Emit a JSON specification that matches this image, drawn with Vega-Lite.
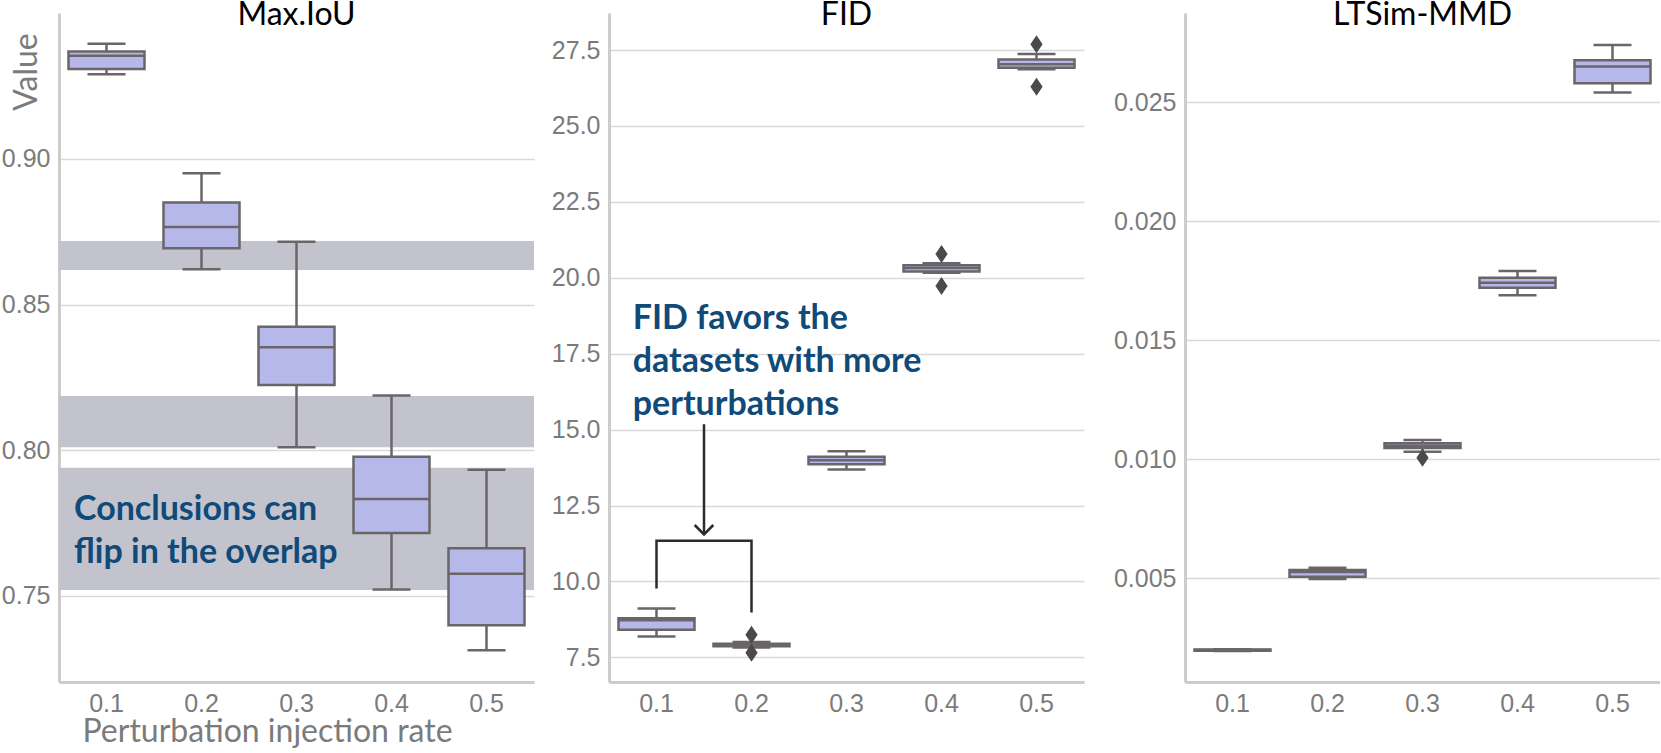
{
  "$schema": "https://vega.github.io/schema/vega-lite/v6.json",
  "padding": {"left": 0, "top": -1, "right": 0, "bottom": 0},
  "background": "white",
  "spacing": 10,
  "config": {
    "view": {"stroke": null},
    "font": "Lato",
    "axis": {
      "labelFont": "Liberation Sans", "labelFontSize": 25, "labelColor": "#7b7b7b",
      "ticks": false, "domainColor": "#cccccc", "domainWidth": 3,
      "gridColor": "#d9d9d9", "gridWidth": 1.5, "labelPadding": 9,
      "titleFont": "Lato", "titleFontSize": 32, "titleFontWeight": "normal", "titleColor": "#7b7b7b"
    },
    "scale": {"bandPaddingInner": 0, "bandPaddingOuter": 0},
    "title": {"font": "Lato", "fontSize": 32, "fontWeight": "normal", "color": "#000000", "frame": "group", "anchor": "middle", "baseline": "alphabetic", "offset": -19}
  },
  "datasets": {
    "boxes": [
      {"metric": "Max.IoU", "rate": "0.1", "lower": 0.9291, "q1": 0.9309, "median": 0.9354, "q3": 0.9369, "upper": 0.9395},
      {"metric": "Max.IoU", "rate": "0.2", "lower": 0.8621, "q1": 0.8693, "median": 0.8766, "q3": 0.8850, "upper": 0.8951},
      {"metric": "Max.IoU", "rate": "0.3", "lower": 0.8010, "q1": 0.8224, "median": 0.8353, "q3": 0.8424, "upper": 0.8716},
      {"metric": "Max.IoU", "rate": "0.4", "lower": 0.7522, "q1": 0.7716, "median": 0.7832, "q3": 0.7977, "upper": 0.8188},
      {"metric": "Max.IoU", "rate": "0.5", "lower": 0.7313, "q1": 0.7399, "median": 0.7576, "q3": 0.7663, "upper": 0.7933},
      {"metric": "FID", "rate": "0.1", "lower": 8.19, "q1": 8.41, "median": 8.72, "q3": 8.79, "upper": 9.11},
      {"metric": "FID", "rate": "0.2", "lower": 7.83, "q1": 7.87, "median": 7.92, "q3": 7.95, "upper": 8.01},
      {"metric": "FID", "rate": "0.3", "lower": 13.69, "q1": 13.86, "median": 13.99, "q3": 14.11, "upper": 14.29},
      {"metric": "FID", "rate": "0.4", "lower": 20.17, "q1": 20.21, "median": 20.32, "q3": 20.41, "upper": 20.48},
      {"metric": "FID", "rate": "0.5", "lower": 26.87, "q1": 26.92, "median": 27.03, "q3": 27.19, "upper": 27.37},
      {"metric": "LTSim-MMD", "rate": "0.1", "lower": 0.00193, "q1": 0.00194, "median": 0.00197, "q3": 0.00200, "upper": 0.00201},
      {"metric": "LTSim-MMD", "rate": "0.2", "lower": 0.004958, "q1": 0.005054, "median": 0.005252, "q3": 0.005336, "upper": 0.005433},
      {"metric": "LTSim-MMD", "rate": "0.3", "lower": 0.01031, "q1": 0.010466, "median": 0.010562, "q3": 0.010663, "upper": 0.010802},
      {"metric": "LTSim-MMD", "rate": "0.4", "lower": 0.016886, "q1": 0.017205, "median": 0.017416, "q3": 0.017626, "upper": 0.017907},
      {"metric": "LTSim-MMD", "rate": "0.5", "lower": 0.025404, "q1": 0.025799, "median": 0.026497, "q3": 0.026766, "upper": 0.027409}
    ],
    "outliers": [
      {"metric": "FID", "rate": "0.2", "value": 8.25},
      {"metric": "FID", "rate": "0.2", "value": 7.65},
      {"metric": "FID", "rate": "0.4", "value": 20.78},
      {"metric": "FID", "rate": "0.4", "value": 19.73},
      {"metric": "FID", "rate": "0.5", "value": 27.69},
      {"metric": "FID", "rate": "0.5", "value": 26.29},
      {"metric": "LTSim-MMD", "rate": "0.3", "value": 0.010058}
    ],
    "bands": [
      {"lo": 0.8619, "hi": 0.8718},
      {"lo": 0.8010, "hi": 0.8186},
      {"lo": 0.7520, "hi": 0.7940}
    ],
    "notes": [
      {"metric": "Max.IoU", "xq": 0.0658, "y": 0.776, "text": "Conclusions can\nflip in the overlap"},
      {"metric": "FID", "xq": 0.075, "y": 18.33, "text": "FID favors the\ndatasets with more\nperturbations"}
    ],
    "paths": [
      {"part": "bracket", "ord": 1, "xq": 0.1, "y": 9.77},
      {"part": "bracket", "ord": 2, "xq": 0.1, "y": 11.34},
      {"part": "bracket", "ord": 3, "xq": 0.2, "y": 11.34},
      {"part": "bracket", "ord": 4, "xq": 0.2, "y": 8.98},
      {"part": "shaft", "ord": 1, "xq": 0.15, "y": 15.18},
      {"part": "shaft", "ord": 2, "xq": 0.15, "y": 11.6},
      {"part": "head", "ord": 1, "xq": 0.1402, "y": 11.86},
      {"part": "head", "ord": 2, "xq": 0.15, "y": 11.55},
      {"part": "head", "ord": 3, "xq": 0.1598, "y": 11.86}
    ]
  },
  "hconcat": [
    {
      "width": 475, "height": 669,
      "title": {"text": "Max.IoU"},
      "resolve": {"scale": {"x": "independent"}},
      "layer": [
        {
          "data": {"name": "bands"},
          "mark": {"type": "rect", "color": "#c3c3cd"},
          "encoding": {
            "y": {"field": "lo", "type": "quantitative",
              "scale": {"domain": [0.7204, 0.9501], "nice": false, "zero": false},
              "axis": {"title": "Value", "values": [0.75, 0.8, 0.85, 0.9], "format": ".2f", "grid": true, "minExtent": 59,
                "titleX": -23, "titleY": 58.5, "titleAngle": -90, "titleAlign": "center", "titleBaseline": "alphabetic"}},
            "y2": {"field": "hi"}
          }
        },
        {
          "data": {"name": "boxes"},
          "transform": [{"filter": "datum.metric === 'Max.IoU'"}],
          "layer": [
            {"mark": {"type": "rule", "color": "#6a6568", "strokeWidth": 2.5},
             "encoding": {"x": {"field": "rate", "type": "ordinal", "scale": {"type": "band", "paddingInner": 0, "paddingOuter": 0},
               "axis": {"title": "Perturbation injection rate", "labelAngle": 0, "grid": false, "titleX": 208, "titleY": 59.7, "titleAlign": "center", "titleBaseline": "alphabetic"}},
               "y": {"field": "lower", "type": "quantitative"}, "y2": {"field": "q1"}}},
            {"mark": {"type": "rule", "color": "#6a6568", "strokeWidth": 2.5},
             "encoding": {"x": {"field": "rate", "type": "ordinal"}, "y": {"field": "q3", "type": "quantitative"}, "y2": {"field": "upper"}}},
            {"mark": {"type": "tick", "color": "#6a6568", "size": 38, "thickness": 2.5, "opacity": 1},
             "encoding": {"x": {"field": "rate", "type": "ordinal"}, "y": {"field": "lower", "type": "quantitative"}}},
            {"mark": {"type": "tick", "color": "#6a6568", "size": 38, "thickness": 2.5, "opacity": 1},
             "encoding": {"x": {"field": "rate", "type": "ordinal"}, "y": {"field": "upper", "type": "quantitative"}}},
            {"mark": {"type": "bar", "width": {"band": 0.8}, "fill": "#b6b8ea", "stroke": "#6a6568", "strokeWidth": 2.5},
             "encoding": {"x": {"field": "rate", "type": "ordinal"}, "y": {"field": "q1", "type": "quantitative"}, "y2": {"field": "q3"}}},
            {"mark": {"type": "tick", "color": "#6a6568", "size": 76, "thickness": 2.5, "opacity": 1},
             "encoding": {"x": {"field": "rate", "type": "ordinal"}, "y": {"field": "median", "type": "quantitative"}}}
          ]
        },
        {
          "data": {"name": "notes"},
          "transform": [{"filter": "datum.metric === 'Max.IoU'"}],
          "mark": {"type": "text", "font": "Lato", "fontWeight": "bold", "fontSize": 34, "color": "#0f4a78", "align": "left", "baseline": "alphabetic", "lineBreak": "\n", "lineHeight": 43},
          "encoding": {
            "x": {"field": "xq", "type": "quantitative", "scale": {"domain": [0.05, 0.55], "nice": false, "zero": false}, "axis": null},
            "y": {"field": "y", "type": "quantitative"},
            "text": {"field": "text", "type": "nominal"}
          }
        }
      ]
    },
    {
      "width": 475, "height": 669,
      "title": {"text": "FID"},
      "resolve": {"scale": {"x": "independent"}},
      "layer": [
        {
          "layer": [
            {"data": {"name": "boxes"}, "transform": [{"filter": "datum.metric === 'FID'"}],
             "mark": {"type": "rule", "color": "#6a6568", "strokeWidth": 2.5},
             "encoding": {"x": {"field": "rate", "type": "ordinal", "scale": {"type": "band", "paddingInner": 0, "paddingOuter": 0},
               "axis": {"title": null, "labelAngle": 0, "grid": false}},
               "y": {"field": "lower", "type": "quantitative",
                 "scale": {"domain": [6.69, 28.72], "nice": false, "zero": false},
                 "axis": {"title": null, "values": [7.5, 10, 12.5, 15, 17.5, 20, 22.5, 25, 27.5], "format": ".1f", "grid": true, "minExtent": 65}},
               "y2": {"field": "q1"}}},
            {"data": {"name": "boxes"}, "transform": [{"filter": "datum.metric === 'FID'"}],
             "mark": {"type": "rule", "color": "#6a6568", "strokeWidth": 2.5},
             "encoding": {"x": {"field": "rate", "type": "ordinal"}, "y": {"field": "q3", "type": "quantitative"}, "y2": {"field": "upper"}}},
            {"data": {"name": "boxes"}, "transform": [{"filter": "datum.metric === 'FID'"}],
             "mark": {"type": "tick", "color": "#6a6568", "size": 38, "thickness": 2.5, "opacity": 1},
             "encoding": {"x": {"field": "rate", "type": "ordinal"}, "y": {"field": "lower", "type": "quantitative"}}},
            {"data": {"name": "boxes"}, "transform": [{"filter": "datum.metric === 'FID'"}],
             "mark": {"type": "tick", "color": "#6a6568", "size": 38, "thickness": 2.5, "opacity": 1},
             "encoding": {"x": {"field": "rate", "type": "ordinal"}, "y": {"field": "upper", "type": "quantitative"}}},
            {"data": {"name": "boxes"}, "transform": [{"filter": "datum.metric === 'FID'"}],
             "mark": {"type": "bar", "width": {"band": 0.8}, "fill": "#b6b8ea", "stroke": "#6a6568", "strokeWidth": 2.5},
             "encoding": {"x": {"field": "rate", "type": "ordinal"}, "y": {"field": "q1", "type": "quantitative"}, "y2": {"field": "q3"}}},
            {"data": {"name": "boxes"}, "transform": [{"filter": "datum.metric === 'FID'"}],
             "mark": {"type": "tick", "color": "#6a6568", "size": 76, "thickness": 2.5, "opacity": 1},
             "encoding": {"x": {"field": "rate", "type": "ordinal"}, "y": {"field": "median", "type": "quantitative"}}},
            {"data": {"name": "outliers"}, "transform": [{"filter": "datum.metric === 'FID'"}],
             "mark": {"type": "point", "shape": "M0,-1L0.68,0L0,1L-0.68,0Z", "filled": true, "color": "#4a4a4a", "size": 324, "opacity": 1},
             "encoding": {"x": {"field": "rate", "type": "ordinal"}, "y": {"field": "value", "type": "quantitative"}}}
          ]
        },
        {
          "layer": [
            {"data": {"name": "paths"},
             "mark": {"type": "line", "color": "#2b2b2b", "strokeWidth": 2.5},
             "encoding": {
               "x": {"field": "xq", "type": "quantitative", "scale": {"domain": [0.05, 0.55], "nice": false, "zero": false}, "axis": null},
               "y": {"field": "y", "type": "quantitative"},
               "detail": {"field": "part"},
               "order": {"field": "ord", "type": "quantitative"}
             }},
            {"data": {"name": "notes"},
             "transform": [{"filter": "datum.metric === 'FID'"}],
             "mark": {"type": "text", "font": "Lato", "fontWeight": "bold", "fontSize": 34, "color": "#0f4a78", "align": "left", "baseline": "alphabetic", "lineBreak": "\n", "lineHeight": 43},
             "encoding": {
               "x": {"field": "xq", "type": "quantitative", "axis": null},
               "y": {"field": "y", "type": "quantitative"},
               "text": {"field": "text", "type": "nominal"}
             }}
          ]
        }
      ]
    },
    {
      "width": 475, "height": 669,
      "title": {"text": "LTSim-MMD"},
      "layer": [
        {"data": {"name": "boxes"}, "transform": [{"filter": "datum.metric === 'LTSim-MMD'"}],
         "mark": {"type": "rule", "color": "#6a6568", "strokeWidth": 2.5},
         "encoding": {"x": {"field": "rate", "type": "ordinal", "scale": {"type": "band", "paddingInner": 0, "paddingOuter": 0},
           "axis": {"title": null, "labelAngle": 0, "grid": false}},
           "y": {"field": "lower", "type": "quantitative",
             "scale": {"domain": [0.00063, 0.02875], "nice": false, "zero": false},
             "axis": {"title": null, "values": [0.005, 0.01, 0.015, 0.02, 0.025], "format": ".3f", "grid": true, "minExtent": 90.5}},
           "y2": {"field": "q1"}}},
        {"data": {"name": "boxes"}, "transform": [{"filter": "datum.metric === 'LTSim-MMD'"}],
         "mark": {"type": "rule", "color": "#6a6568", "strokeWidth": 2.5},
         "encoding": {"x": {"field": "rate", "type": "ordinal"}, "y": {"field": "q3", "type": "quantitative"}, "y2": {"field": "upper"}}},
        {"data": {"name": "boxes"}, "transform": [{"filter": "datum.metric === 'LTSim-MMD'"}],
         "mark": {"type": "tick", "color": "#6a6568", "size": 38, "thickness": 2.5, "opacity": 1},
         "encoding": {"x": {"field": "rate", "type": "ordinal"}, "y": {"field": "lower", "type": "quantitative"}}},
        {"data": {"name": "boxes"}, "transform": [{"filter": "datum.metric === 'LTSim-MMD'"}],
         "mark": {"type": "tick", "color": "#6a6568", "size": 38, "thickness": 2.5, "opacity": 1},
         "encoding": {"x": {"field": "rate", "type": "ordinal"}, "y": {"field": "upper", "type": "quantitative"}}},
        {"data": {"name": "boxes"}, "transform": [{"filter": "datum.metric === 'LTSim-MMD'"}],
         "mark": {"type": "bar", "width": {"band": 0.8}, "fill": "#b6b8ea", "stroke": "#6a6568", "strokeWidth": 2.5},
         "encoding": {"x": {"field": "rate", "type": "ordinal"}, "y": {"field": "q1", "type": "quantitative"}, "y2": {"field": "q3"}}},
        {"data": {"name": "boxes"}, "transform": [{"filter": "datum.metric === 'LTSim-MMD'"}],
         "mark": {"type": "tick", "color": "#6a6568", "size": 76, "thickness": 2.5, "opacity": 1},
         "encoding": {"x": {"field": "rate", "type": "ordinal"}, "y": {"field": "median", "type": "quantitative"}}},
        {"data": {"name": "outliers"}, "transform": [{"filter": "datum.metric === 'LTSim-MMD'"}],
         "mark": {"type": "point", "shape": "M0,-1L0.68,0L0,1L-0.68,0Z", "filled": true, "color": "#4a4a4a", "size": 324, "opacity": 1},
         "encoding": {"x": {"field": "rate", "type": "ordinal"}, "y": {"field": "value", "type": "quantitative"}}}
      ]
    }
  ]
}
